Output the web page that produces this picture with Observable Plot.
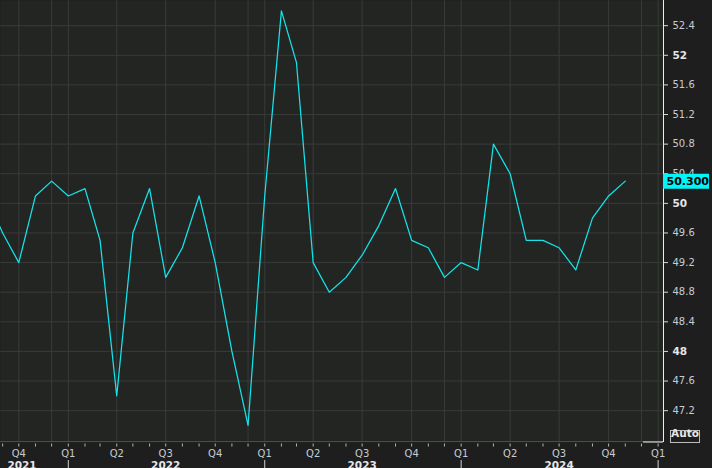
<!DOCTYPE html>
<html><head><meta charset="utf-8">
<script src="https://cdn.jsdelivr.net/npm/d3@7"></script>
<script src="https://cdn.jsdelivr.net/npm/@observablehq/plot@0.6"></script>
<style>
html,body{margin:0;padding:0;background:#1e1e1e;}
#chart{width:712px;height:468px;overflow:hidden;}
#chart svg{display:block;}
</style></head><body><div id="chart"></div>
<script>
const months = ["2021-08","2021-09","2021-10","2021-11","2021-12",
  "2022-01","2022-02","2022-03","2022-04","2022-05","2022-06","2022-07","2022-08","2022-09","2022-10","2022-11","2022-12",
  "2023-01","2023-02","2023-03","2023-04","2023-05","2023-06","2023-07","2023-08","2023-09","2023-10","2023-11","2023-12",
  "2024-01","2024-02","2024-03","2024-04","2024-05","2024-06","2024-07","2024-08","2024-09","2024-10","2024-11"];
const values = [50.1,49.6,49.2,50.1,50.3,
  50.1,50.2,49.5,47.4,49.6,50.2,49.0,49.4,50.1,49.2,48.0,47.0,
  50.1,52.6,51.9,49.2,48.8,49.0,49.3,49.7,50.2,49.5,49.4,49.0,
  49.2,49.1,50.8,50.4,49.5,49.5,49.4,49.1,49.8,50.1,50.3];
const xDomain = ["2021-08-28","2025-01-11"];
const yDomain = [46.77, 52.74];
const yTicks = [47.2,47.6,48,48.4,48.8,49.2,49.6,50,50.4,50.8,51.2,51.6,52,52.4,52.8];
const yTickLabels = ["47.2","47.6","48","48.4","48.8","49.2","49.6","50","50.4","50.8","51.2","51.6","52","52.4","52.8"];
const gridDates = ["2021-10-01","2021-12-01","2022-01-01","2022-04-01","2022-07-01","2022-10-01","2022-12-01",
  "2023-01-01","2023-04-01","2023-07-01","2023-10-01","2023-12-01","2024-01-01","2024-04-01","2024-07-01","2024-10-01","2024-12-01","2025-01-01"];
const quarterDates = ["2021-10-01","2022-01-01","2022-04-01","2022-07-01","2022-10-01","2023-01-01","2023-04-01","2023-07-01","2023-10-01","2024-01-01","2024-04-01","2024-07-01","2024-10-01","2025-01-01"];
const quarterLabels = ["Q4","Q1","Q2","Q3","Q4","Q1","Q2","Q3","Q4","Q1","Q2","Q3","Q4","Q1"];
const yearDividers = ["2022-01-01","2023-01-01","2024-01-01","2025-01-01"];
const yearLabelDates = ["2021-10-07","2022-07-01","2023-07-01","2024-07-01"];
const yearLabels = ["2021","2022","2023","2024"];
const lastLabel = "50.300";
const autoLabel = "Auto";

const D = s => new Date(s.length === 7 ? s + "-01" : s);
const data = months.map((m, i) => ({date: D(m), value: values[i]}));
const last = data[data.length - 1];
const xd = xDomain.map(D);
const monthTicks = d3.utcMonth.range(D("2021-09-01"), D("2025-01-02"));
const quarters = quarterDates.map((d, i) => ({date: D(d), label: quarterLabels[i]}));
const years = yearLabelDates.map((d, i) => ({date: D(d), label: yearLabels[i]}));
const yt = yTicks.map((v, i) => ({v, label: yTickLabels[i], bold: Number.isInteger(v)}));

const grid = "#393a39";
const txt = "#c6ccd4";

const plot = Plot.plot({
  width: 712, height: 468,
  marginLeft: 0, marginRight: 49, marginTop: 0, marginBottom: 26,
  style: {background: "#1e1e1e", fontFamily: "'DejaVu Sans', sans-serif", fontSize: "10px", color: txt, overflow: "hidden"},
  x: {type: "utc", domain: xd, axis: null},
  y: {domain: yDomain, axis: null},
  marks: [
    Plot.frame({fill: "#232523", stroke: null}),
    Plot.ruleX(gridDates.map(D), {stroke: grid, strokeWidth: 1}),
    Plot.ruleY(yTicks.filter(v => v < yDomain[1]), {stroke: grid, strokeWidth: 1}),
    Plot.line(data, {x: "date", y: "value", stroke: "#14e4ea", strokeWidth: 1.25, clip: true}),
    // bottom axis line
    Plot.ruleY([yDomain[0]], {stroke: "#4a4a4a", dy: -1}),
    Plot.ruleY([yDomain[0]], {stroke: "#f0f0f0", insetLeft: 643, dy: -0.5}),
    // right axis line
    Plot.ruleX([xd[1]], {stroke: "#eeeeee"}),
    // right ticks + labels
    Plot.ruleY(yTicks, {insetLeft: 658, dx: 5, stroke: "#d8d8d8"}),
    Plot.text(yt.filter(d => !d.bold), {y: "v", text: "label", frameAnchor: "right", textAnchor: "start", dx: 9, fill: txt, fontSize: 10}),
    Plot.text(yt.filter(d => d.bold), {y: "v", text: "label", frameAnchor: "right", textAnchor: "start", dx: 9, fill: "#e4e6ea", fontSize: 10.5, fontWeight: "bold"}),
    // last value label
    Plot.ruleY([last.value], {insetLeft: 617, dx: 46, stroke: "#00f4f8", strokeWidth: 15}),
    Plot.text([last], {y: "value", text: () => lastLabel, frameAnchor: "right", textAnchor: "start", dx: 3, fill: "#000", fontWeight: "bold", fontSize: 11}),
    // Auto box
    Plot.frame({insetLeft: 670, insetRight: -36, insetTop: 430, insetBottom: 0, stroke: "#bdbdbd", fill: "none"}),
    Plot.text([autoLabel], {text: d => d, frameAnchor: "bottom-right", textAnchor: "middle", dx: 21.5, dy: -6, fill: "#e8e8e8", fontWeight: "bold", fontSize: 10.5}),
    // bottom month ticks
    Plot.ruleX(monthTicks, {insetTop: 439, dy: 4.5, stroke: "#b4b4b4"}),
    // quarter labels
    Plot.text(quarters, {x: "date", text: "label", frameAnchor: "bottom", lineAnchor: "top", dy: 7, fill: txt, fontSize: 10}),
    // year dividers
    Plot.ruleX(yearDividers.map(D), {insetTop: 434, dy: 26, stroke: "#d0d0d0"}),
    // year labels
    Plot.text(years, {x: "date", text: "label", frameAnchor: "bottom", lineAnchor: "top", dy: 19.5, fill: "#e4e6ea", fontWeight: "bold", fontSize: 10.5})
  ]
});
document.getElementById("chart").appendChild(plot);
</script>
</body></html>
